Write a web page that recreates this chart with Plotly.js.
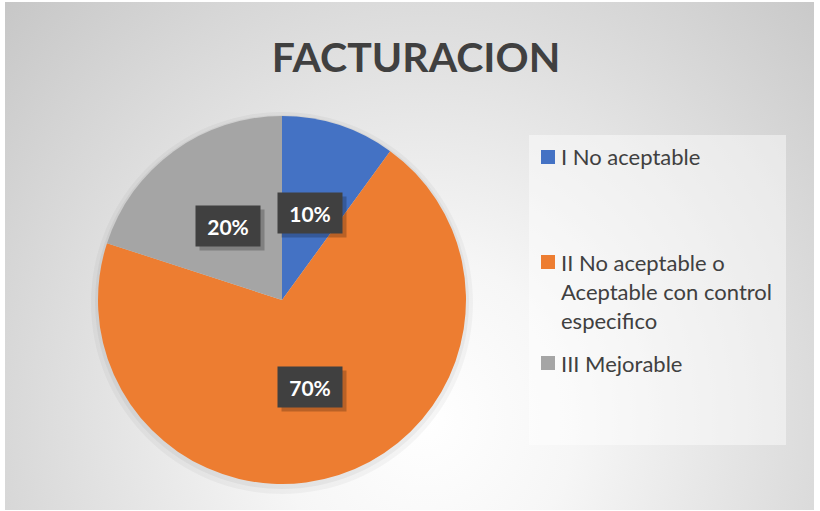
<!DOCTYPE html>
<html>
<head>
<meta charset="utf-8">
<script src="https://cdn.plot.ly/plotly-3.0.1.min.js"></script>
<style>
  html, body { margin:0; padding:0; background:#ffffff; }
  #wrap { position:relative; width:820px; height:511px; overflow:hidden; }
  #bg { position:absolute; left:5px; top:2px; width:809px; height:508px;
        background: radial-gradient(ellipse 600px 640px at 52% 82%, #ffffff 0%, #f6f6f6 25%, #c4c4c4 100%); }
  #chart { position:absolute; left:0; top:0; width:820px; height:511px; }
</style>
</head>
<body>
<div id="wrap"><div id="bg"></div><div id="chart"></div></div>
<script>
// ---- data ----
const chartTitle = 'FACTURACION';
const categories = ['I No aceptable', 'II No aceptable o Aceptable con control especifico', 'III Mejorable'];
const values = [10, 70, 20];
const colors = ['#4472C4', '#ED7D31', '#A5A5A5'];

// ---- layout constants ----
const W = 820, H = 511;
const pieDomain = {x: [98 / W, 466 / W], y: [1 - 484 / H, 1 - 116 / H]};
const legendRowY = [157, 262, 363];   // px of first line of each legend entry
const legendLineH = 29;
const legendWrap = 21;

function wrapText(s, n) {
  const words = s.split(' '); const lines = []; let cur = '';
  words.forEach(w => {
    if (cur && (cur + ' ' + w).length > n) { lines.push(cur); cur = w; }
    else cur = cur ? cur + ' ' + w : w;
  });
  if (cur) lines.push(cur);
  return lines;
}

// pie geometry in pixels
const dxPx = (pieDomain.x[1] - pieDomain.x[0]) * W;
const dyPx = (pieDomain.y[1] - pieDomain.y[0]) * H;
const R = Math.min(dxPx, dyPx) / 2;
const cx = (pieDomain.x[0] + pieDomain.x[1]) / 2 * W;
const cy = (1 - (pieDomain.y[0] + pieDomain.y[1]) / 2) * H;

function grow(px, dy) {
  return {x: [(cx - R - px) / W, (cx + R + px) / W],
          y: [1 - (cy + dy + R + px) / H, 1 - (cy + dy - R - px) / H]};
}

const traces = [
  {type: 'pie', values: [1], marker: {colors: ['rgba(0,0,0,0.035)']}, domain: grow(7, 3),
   textinfo: 'none', hoverinfo: 'skip', showlegend: false, sort: false},
  {type: 'pie', values: [1], marker: {colors: ['rgba(0,0,0,0.045)']}, domain: grow(3, 2),
   textinfo: 'none', hoverinfo: 'skip', showlegend: false, sort: false},
  {type: 'pie', labels: categories, values: values, marker: {colors: colors, line: {width: 0}},
   domain: pieDomain, sort: false, direction: 'clockwise', rotation: 0,
   textinfo: 'none', showlegend: false, hoverinfo: 'label+percent'}
];

const annotations = [];
const shapes = [];
const total = values.reduce((a, b) => a + b, 0);
let cum = 0;
values.forEach((v, i) => {
  const th = 2 * Math.PI * (cum + v / 2) / total;
  cum += v;
  const px = cx + 0.5 * R * Math.sin(th);
  const py = cy - 0.5 * R * Math.cos(th);
  const pct = Math.round(100 * v / total) + '%';
  // shadow
  annotations.push({xref: 'paper', yref: 'paper', x: px / W, y: 1 - py / H, xshift: 4, yshift: -4,
    xanchor: 'center', yanchor: 'middle',
    text: ' ', showarrow: false, width: 56, height: 32, borderpad: 4,
    bgcolor: 'rgba(0,0,0,0.22)', font: {size: 20}});
  annotations.push({xref: 'paper', yref: 'paper', x: px / W, y: 1 - py / H,
    xanchor: 'center', yanchor: 'middle',
    text: '<b>' + pct + '</b>', showarrow: false, width: 56, height: 32, borderpad: 4,
    bgcolor: '#404040', font: {family: 'Lato, sans-serif', size: 21, color: '#ffffff'}});
});

// legend box
shapes.push({type: 'rect', xref: 'paper', yref: 'paper', x0: 529 / W, x1: 786 / W,
  y0: 1 - 445 / H, y1: 1 - 135 / H, fillcolor: 'rgba(255,255,255,0.45)', line: {width: 0}, layer: 'below'});

categories.forEach((c, i) => {
  const y0 = legendRowY[i];
  shapes.push({type: 'rect', xref: 'paper', yref: 'paper', x0: 541 / W, x1: 555 / W,
    y0: 1 - (y0 + 7) / H, y1: 1 - (y0 - 7) / H, fillcolor: colors[i], line: {width: 0}});
  wrapText(c, legendWrap).forEach((ln, k) => {
    annotations.push({xref: 'paper', yref: 'paper', x: 559 / W, y: 1 - (y0 + k * legendLineH) / H,
      xanchor: 'left', yanchor: 'middle', text: ln, showarrow: false,
      font: {family: 'Lato, sans-serif', size: 22, color: '#404040'}});
  });
});

const layout = {
  width: W, height: H,
  margin: {l: 0, r: 0, t: 0, b: 0},
  paper_bgcolor: 'rgba(0,0,0,0)', plot_bgcolor: 'rgba(0,0,0,0)',
  title: {text: '<b>' + chartTitle + '</b>', x: 416 / W, xanchor: 'center', y: 1 - 58 / H, yanchor: 'middle',
          font: {family: 'Lato, sans-serif', size: 41, color: '#404040'}},
  showlegend: false,
  annotations: annotations,
  shapes: shapes
};

Plotly.newPlot('chart', traces, layout, {displayModeBar: false, staticPlot: true});
</script>
</body>
</html>
